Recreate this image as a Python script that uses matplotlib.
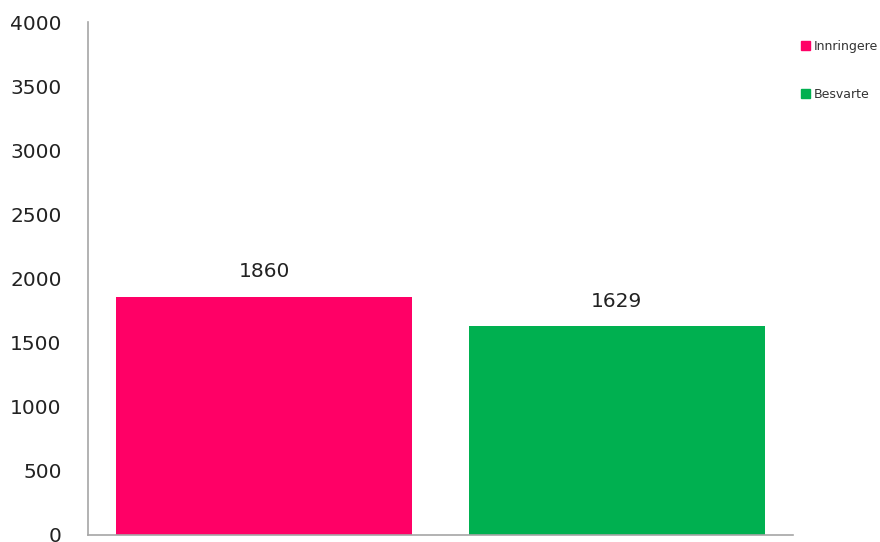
import matplotlib
matplotlib.use("Agg")
import matplotlib.pyplot as plt
from matplotlib.patches import Patch

categories = ["Innringere", "Besvarte"]
values = [1860, 1629]
colors = ["#FF0066", "#00B050"]
y_ticks = [0, 500, 1000, 1500, 2000, 2500, 3000, 3500, 4000]


def main():
    fig = plt.figure(figsize=(8.8, 5.42), dpi=100)
    ax = fig.add_axes([0.1, 0.013, 0.801, 0.946])

    x = list(range(len(categories)))
    bars = ax.bar(x, values, width=0.84, color=colors)

    for bar, v in zip(bars, values):
        ax.annotate(str(v), (bar.get_x() + bar.get_width() / 2, v),
                    xytext=(0, 11), textcoords="offset points",
                    ha="center", va="bottom", fontsize=14.5, color="#222222")

    ax.set_xlim(-0.5, 1.5)
    ax.set_ylim(0, 4000)
    ax.set_yticks(y_ticks)
    ax.set_xticks([])
    ax.tick_params(axis="y", length=0, pad=19, labelsize=14.5, labelcolor="#222222")

    for side in ["top", "right"]:
        ax.spines[side].set_visible(False)
    for side in ["left", "bottom"]:
        ax.spines[side].set_color("#A6A6A6")
        ax.spines[side].set_linewidth(1.2)

    handles = [Patch(color=c, label=l) for c, l in zip(colors, categories)]
    leg = fig.legend(handles=handles, loc="upper left", bbox_to_anchor=(0.905, 0.935),
                     frameon=False, fontsize=9, handlelength=0.7, handleheight=0.7,
                     handletextpad=0.3, labelspacing=2.75, borderaxespad=0)
    for t in leg.get_texts():
        t.set_color("#333333")

    plt.savefig("out.png", dpi=100)


if __name__ == '__main__':
    main()
